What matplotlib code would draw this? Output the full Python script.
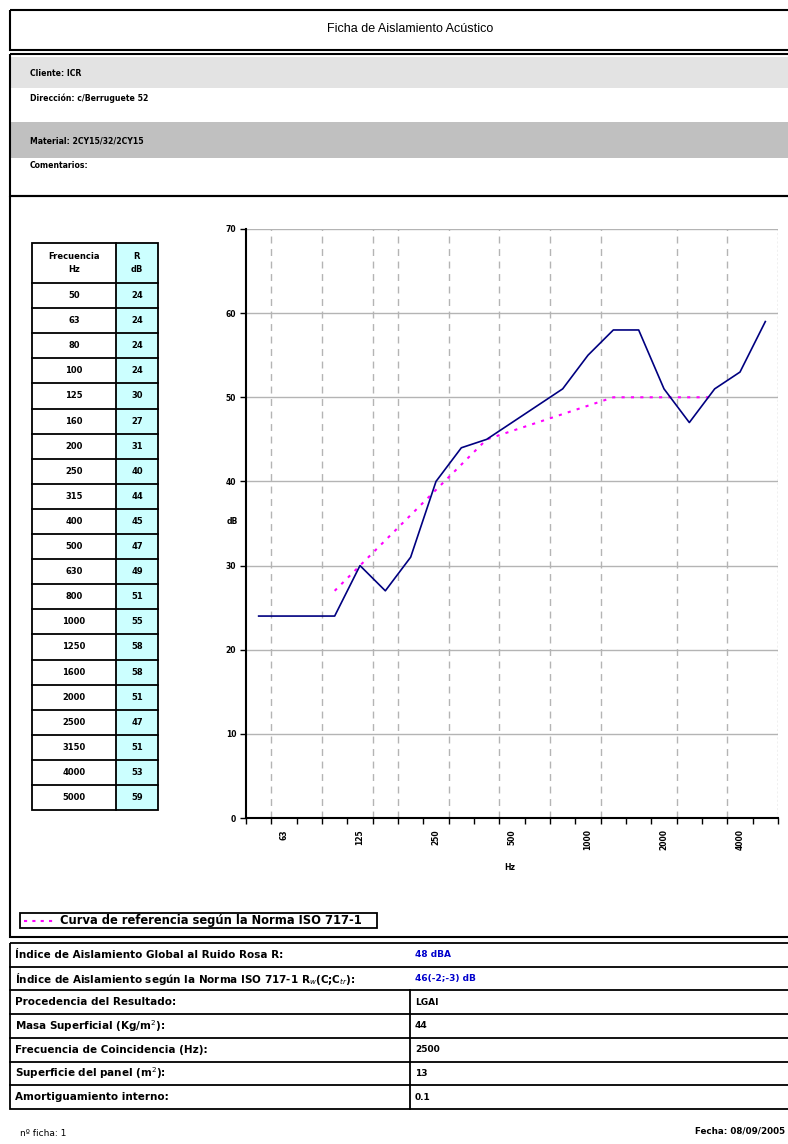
import matplotlib
matplotlib.use("Agg")
import matplotlib.pyplot as plt
from matplotlib.patches import Rectangle

plt.rcParams['font.family'] = ['DejaVu Sans']

# third octave bands and measured R
freqs = [50, 63, 80, 100, 125, 160, 200, 250, 315, 400, 500, 630, 800,
         1000, 1250, 1600, 2000, 2500, 3150, 4000, 5000]
r_db = [24, 24, 24, 24, 30, 27, 31, 40, 44, 45, 47, 49, 51,
        55, 58, 58, 51, 47, 51, 53, 59]

# ISO 717-1 reference curve (shifted), 100 .. 3150 Hz
ref_freqs = [100, 125, 160, 200, 250, 315, 400, 500, 630, 800,
             1000, 1250, 1600, 2000, 2500, 3150]
ref_db = [27, 30, 33, 36, 39, 42, 45, 46, 47, 48, 49, 50, 50, 50, 50, 50]

labelled = [63, 125, 250, 500, 1000, 2000, 4000]
vgrid_at = [1, 3, 5, 6, 8, 10, 12, 14, 17, 19]

info_lines = ["Cliente: ICR", "Dirección: c/Berruguete 52",
              "Material: 2CY15/32/2CY15", "Comentarios:"]

result_labels = [
    "Índice de Aislamiento Global al Ruido Rosa R:",
    "Índice de Aislamiento según la Norma ISO 717-1 R$_w$(C;C$_{tr}$):",
    "Procedencia del Resultado:",
    "Masa Superficial (Kg/m$^2$):",
    "Frecuencia de Coincidencia (Hz):",
    "Superficie del panel (m$^2$):",
    "Amortiguamiento interno:",
]
result_values = ["48 dBA", "46(-2;-3) dB", "LGAI", "44", "2500", "13", "0.1"]

W, H = 788, 1144
fig = plt.figure(figsize=(W / 100, H / 100), dpi=100)

# page overlay in pixel coordinates
bg = fig.add_axes([0, 0, 1, 1])
bg.set_xlim(0, W)
bg.set_ylim(H, 0)
bg.axis('off')

def box(x0, y0, x1, y1, lw=1.2, fc='none', ec='black', z=2):
    bg.add_patch(Rectangle((x0, y0), x1 - x0, y1 - y0, lw=lw, fc=fc, ec=ec, zorder=z))

# title
box(10, 10, 800, 50, lw=1.5)
bg.text(410, 29, "Ficha de Aislamiento Acústico", ha='center', va='center',
        fontsize=9, family='Liberation Sans')

# info block
box(11, 57, 800, 88, lw=0, fc='#e3e3e3', ec='none', z=1)
box(11, 122, 800, 158, lw=0, fc='#c0c0c0', ec='none', z=1)
box(10, 54, 800, 196, lw=1.5)
for txt, y in zip(info_lines, [74, 98, 141, 165]):
    bg.text(30, y, txt, ha='left', va='center', fontsize=5.6, weight='bold')

# chart frame
box(10, 196, 800, 937, lw=1.5)

# frequency table
tx0, tx1, tx2 = 32, 116, 158
ty0, hdr_h, row_h = 243, 40, 25.1
bg.add_patch(Rectangle((tx1, ty0), tx2 - tx1, hdr_h + row_h * len(freqs),
                       fc='#ccffff', ec='none', zorder=1))
box(tx0, ty0, tx2, ty0 + hdr_h + row_h * len(freqs), lw=1.3)
bg.plot([tx1, tx1], [ty0, ty0 + hdr_h + row_h * len(freqs)], color='black', lw=1.3)
bg.text((tx0 + tx1) / 2, ty0 + hdr_h / 2, "Frecuencia\nHz", ha='center', va='center',
        fontsize=6, weight='bold', linespacing=1.7)
bg.text((tx1 + tx2) / 2, ty0 + hdr_h / 2, "R\ndB", ha='center', va='center',
        fontsize=6, weight='bold', linespacing=1.7)
for i, (f, r) in enumerate(zip(freqs, r_db)):
    y = ty0 + hdr_h + row_h * i
    bg.plot([tx0, tx2], [y, y], color='black', lw=1.3)
    bg.text((tx0 + tx1) / 2, y + row_h / 2, str(f), ha='center', va='center',
            fontsize=6, weight='bold')
    bg.text((tx1 + tx2) / 2, y + row_h / 2, str(r), ha='center', va='center',
            fontsize=6, weight='bold')

# axis titles
bg.text(232, 521, "dB", ha='center', va='center', fontsize=5.5, weight='bold')
bg.text(510, 867, "Hz", ha='center', va='center', fontsize=5.5, weight='bold')

# legend
box(20, 913, 377, 928, lw=1.3)
bg.plot([24, 54], [920.5, 920.5], color='#ff00ff', lw=1.5, ls=(0, (1.5, 2.5)))
bg.text(60, 920.5, "Curva de referencia según la Norma ISO 717-1", ha='left',
        va='center', fontsize=8.3, weight='bold')

# results table
rt0, rh = 943, 23.7
box(10, rt0, 800, rt0 + rh * len(result_labels), lw=1.3)
for i, (lab, val) in enumerate(zip(result_labels, result_values)):
    y = rt0 + rh * i
    if i > 0:
        bg.plot([10, 800], [y, y], color='black', lw=1.3)
    if i >= 2:
        bg.plot([410, 410], [y, y + rh], color='black', lw=1.3)
    col = '#0000cc' if i < 2 else 'black'
    bg.text(15, y + rh / 2, lab, ha='left', va='center', fontsize=7.5, weight='bold')
    bg.text(415, y + rh / 2, val, ha='left', va='center', fontsize=6.5,
            weight='bold', color=col)

# footer
bg.text(20, 1133, "nº ficha: 1", ha='left', va='center', fontsize=6.5)
bg.text(785, 1131, "Fecha: 08/09/2005", ha='right', va='center', fontsize=6.3,
        weight='bold')

# chart
ax = fig.add_axes([246 / W, 1 - 818 / H, (778 - 246) / W, (818 - 229) / H])
ax.set_facecolor('none')
xs = [i + 0.5 for i in range(len(freqs))]
ref_xs = [freqs.index(f) + 0.5 for f in ref_freqs]

for yv in range(10, 80, 10):
    ax.axhline(yv, color='#b4b4b4', lw=1, zorder=1)
for b in vgrid_at:
    ax.axvline(b, color='#b4b4b4', lw=1, ls=(0, (5, 4)), zorder=1)
ax.axvline(len(freqs), color='#b4b4b4', lw=1, ls=(0, (1.5, 1.5)), zorder=1)

ax.plot(ref_xs, ref_db, color='#ff00ff', lw=1.5, ls=(0, (1.5, 3)), zorder=3)
ax.plot(xs, r_db, color='#000080', lw=1.2, zorder=4)

ax.set_xlim(0, len(freqs))
ax.set_ylim(0, 70)
ax.set_yticks(range(0, 80, 10))
ax.tick_params(axis='y', direction='out', length=4, width=1, labelsize=5.5, pad=3)
for t in ax.get_yticklabels():
    t.set_fontweight('bold')
ax.set_xticks(range(len(freqs) + 1))
ax.set_xticklabels([])
ax.tick_params(axis='x', which='major', direction='out', length=4, width=1)
ax.set_xticks([freqs.index(f) + 0.5 for f in labelled], minor=True)
ax.set_xticklabels([str(f) for f in labelled], minor=True, rotation=90,
                   fontsize=5.5, fontweight='bold')
ax.tick_params(axis='x', which='minor', length=0, pad=8)
for s in ['top', 'right']:
    ax.spines[s].set_visible(False)
ax.spines['left'].set_linewidth(1.5)
ax.spines['bottom'].set_linewidth(1.5)

fig.savefig("out.png", dpi=100)
